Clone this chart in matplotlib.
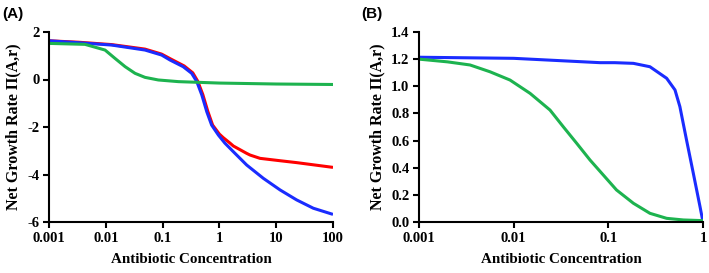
import matplotlib
matplotlib.use("Agg")
import matplotlib.pyplot as plt

# Panel A data
a_red_x = [0.001, 0.0033, 0.0127, 0.049, 0.096, 0.14, 0.24, 0.34, 0.415, 0.51, 0.625, 0.76,
           1.0, 1.17, 1.54, 1.76, 3.02, 3.46, 5.19, 11.7, 22.9, 100]
a_red_y = [1.63, 1.57, 1.47, 1.28, 1.07, 0.86, 0.57, 0.28, -0.07, -0.63, -1.34, -1.92,
           -2.3, -2.45, -2.68, -2.8, -3.11, -3.18, -3.32, -3.42, -3.50, -3.70]
a_blue_x = [0.001, 0.0033, 0.0127, 0.049, 0.096, 0.135, 0.23, 0.325, 0.40, 0.49, 0.60, 0.73,
            0.96, 1.25, 1.76, 3.02, 5.93, 11.7, 22.9, 45, 100]
a_blue_y = [1.63, 1.55, 1.45, 1.24, 1.03, 0.82, 0.54, 0.26, -0.09, -0.65, -1.36, -1.92,
            -2.34, -2.68, -3.04, -3.6, -4.16, -4.65, -5.07, -5.42, -5.68]
a_green_x = [0.001, 0.0043, 0.0097, 0.0145, 0.0219, 0.0327, 0.049, 0.084, 0.19, 1, 10, 100]
a_green_y = [1.52, 1.48, 1.24, 0.89, 0.54, 0.26, 0.09, -0.02, -0.09, -0.15, -0.19, -0.21]

# Panel B data
b_blue_x = [0.001, 0.01, 0.082, 0.117, 0.184, 0.275, 0.413, 0.506, 0.57, 0.67, 0.79, 0.93, 1.0]
b_blue_y = [1.214, 1.206, 1.174, 1.174, 1.169, 1.144, 1.059, 0.973, 0.85, 0.604, 0.359, 0.113, 0.0]
b_green_x = [0.001, 0.002, 0.00346, 0.00562, 0.00915, 0.0149, 0.0242, 0.0334, 0.0463, 0.064,
             0.0885, 0.122, 0.184, 0.275, 0.413, 0.62, 1.0]
b_green_y = [1.20, 1.18, 1.157, 1.107, 1.046, 0.948, 0.825, 0.702, 0.58, 0.457,
             0.346, 0.236, 0.138, 0.064, 0.027, 0.015, 0.01]

a_xticks = [0.001, 0.01, 0.1, 1, 10, 100]
a_xlabels = ["0.001", "0.01", "0.1", "1", "10", "100"]
a_yticks = [2, 0, -2, -4, -6]
b_xticks = [0.001, 0.01, 0.1, 1]
b_xlabels = ["0.001", "0.01", "0.1", "1"]
b_yticks = [0.0, 0.2, 0.4, 0.6, 0.8, 1.0, 1.2, 1.4]

RED = "#ff0000"
BLUE = "#1a2cff"
GREEN = "#1db34f"

serif = "Liberation Serif"
fig = plt.figure(figsize=(7.09, 2.73), dpi=100)
axA = fig.add_axes([49/709, 1-222/273, 284/709, 190/273])
axB = fig.add_axes([419/709, 1-222/273, 284/709, 190/273])

def style(ax):
    for s in ["top", "right"]:
        ax.spines[s].set_visible(False)
    for s in ["left", "bottom"]:
        ax.spines[s].set_linewidth(1.5)
    ax.tick_params(direction="out", length=4, width=1.5, labelsize=10.5, pad=3)
    ax.minorticks_off()
    for lab in ax.get_xticklabels() + ax.get_yticklabels():
        lab.set_fontfamily(serif)
        lab.set_fontweight("bold")
    ax.set_xlabel("Antibiotic Concentration", fontfamily=serif, fontweight="bold", fontsize=10.8, labelpad=6)
    ax.set_ylabel("Net Growth Rate Π(A,r)", fontfamily=serif, fontweight="bold", fontsize=11.5, labelpad=4)

lw = 2.2
kw = dict(lw=lw, solid_capstyle="butt", solid_joinstyle="round")
axA.plot(a_red_x, a_red_y, color=RED, **kw)
axA.plot(a_blue_x, a_blue_y, color=BLUE, **kw)
axA.plot(a_green_x, a_green_y, color=GREEN, **kw)
axA.set_xscale("log")
axA.set_xlim(0.001, 100)
axA.set_ylim(-6, 2)
axA.set_xticks(a_xticks)
axA.set_xticklabels(a_xlabels)
axA.set_yticks(a_yticks)
axA.set_yticklabels([str(v) for v in a_yticks])
style(axA)

axB.plot(b_blue_x, b_blue_y, color=BLUE, **kw)
axB.plot(b_green_x, b_green_y, color=GREEN, **kw)
axB.set_xscale("log")
axB.set_xlim(0.001, 1)
axB.set_ylim(0, 1.4)
axB.set_xticks(b_xticks)
axB.set_xticklabels(b_xlabels)
axB.set_yticks(b_yticks)
axB.set_yticklabels([f"{v:.1f}" for v in b_yticks])
style(axB)

fig.text(2/709, 1-14/273, "(A)", fontfamily="Liberation Sans", fontweight="bold", fontsize=11, va="center", ha="left")
fig.text(361/709, 1-14/273, "(B)", fontfamily="Liberation Sans", fontweight="bold", fontsize=11, va="center", ha="left")

fig.savefig("out.png", dpi=100)
